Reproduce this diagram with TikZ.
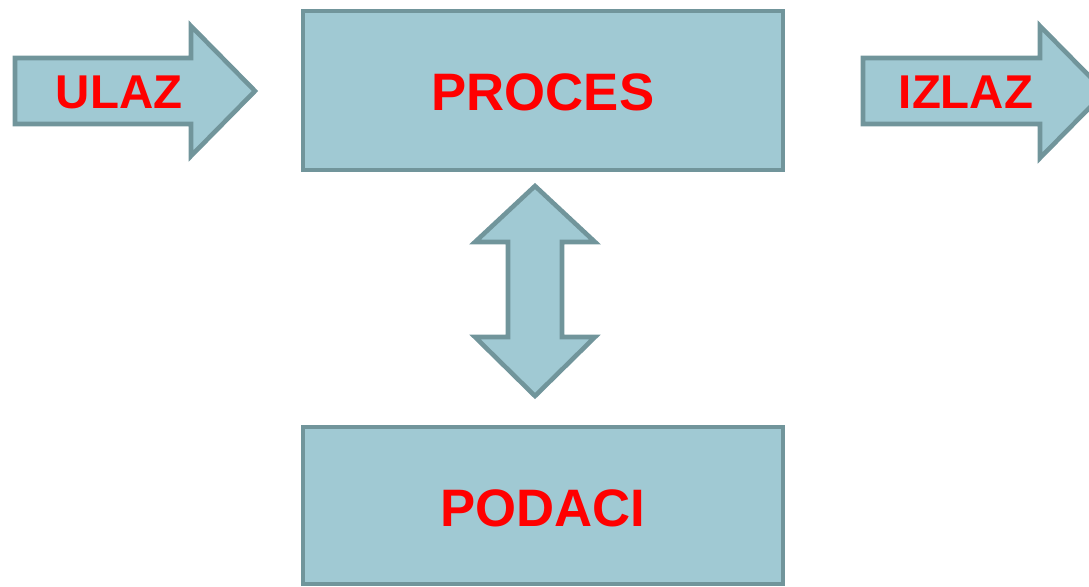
\documentclass[tikz,border=0pt]{standalone}
\usepackage{fontspec}
\setmainfont{Liberation Sans}
\definecolor{blockfill}{HTML}{A0C9D3}
\definecolor{blockline}{HTML}{71959B}
\definecolor{labelred}{HTML}{FF0000}
\begin{document}
\begin{tikzpicture}[x=0.02cm,y=-0.02cm,
    block/.style={draw=blockline,fill=blockfill,line width=2.6pt,line join=miter},
    label/.style={text=labelred,font=\fontsize{30}{36}\selectfont\bfseries},
    small label/.style={label,font=\fontsize{27}{32}\selectfont\bfseries}]
      \useasboundingbox (0,0) rectangle (1089,586);
      \begin{scope}
        \clip (0,0) rectangle (1089,586);
        % boxes
        \draw[block] (303,11) rectangle (783,170);
        \draw[block] (303,427) rectangle (783,584);
        % arrows
        \draw[block] (15,58) -- (191,58) -- (191,26) -- (255,91) -- (191,156)
          -- (191,124) -- (15,124) -- cycle;
        \draw[block] (863,58) -- (1040,58) -- (1040,26) -- (1105,92) -- (1040,158)
          -- (1040,124) -- (863,124) -- cycle;
        \draw[block] (535,186) -- (595,242) -- (562,242) -- (562,337) -- (595,337)
          -- (535,396) -- (475,337) -- (508,337) -- (508,242) -- (475,242) -- cycle;
      \end{scope}
      \node[small label] (ulaz) at (119,92) {ULAZ};
      \node[small label] (izlaz) at (966,92) {IZLAZ};
      \node[label] (proces) at (543,92) {PROCES};
      \node[label] (podaci) at (543,508) {PODACI};
    \end{tikzpicture}
\end{document}
